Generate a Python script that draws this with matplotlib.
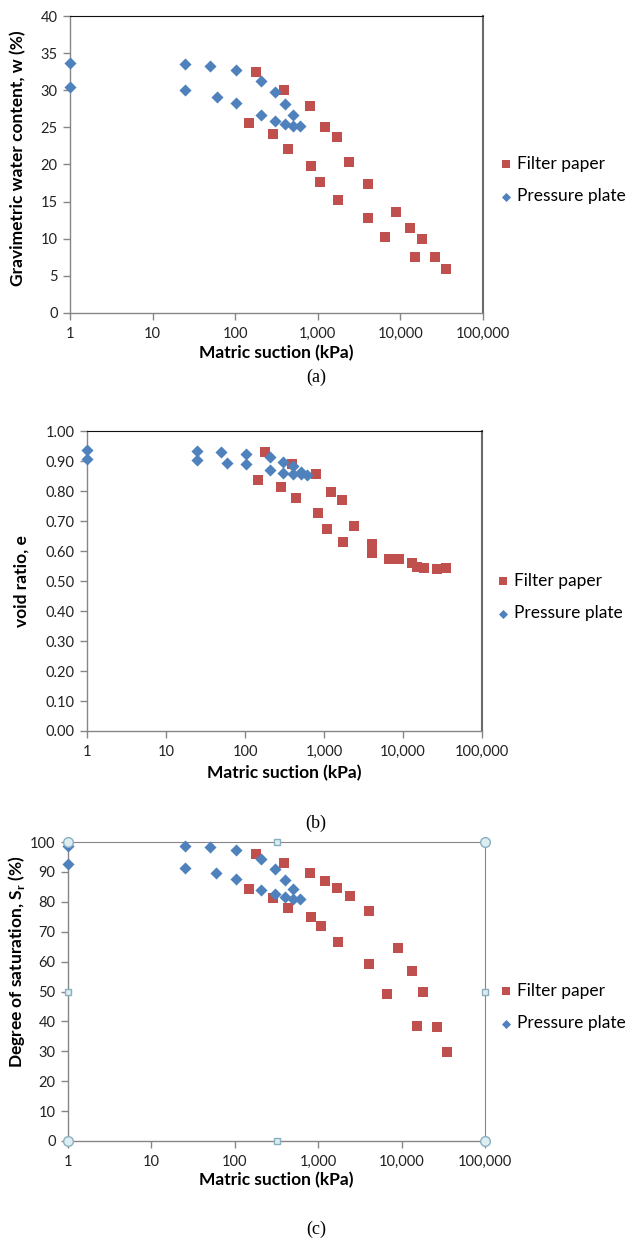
import matplotlib
matplotlib.use("Agg")
import matplotlib.pyplot as plt
from matplotlib.ticker import FixedLocator, FuncFormatter

plt.rcParams['font.family'] = ['Lato', 'DejaVu Sans']
plt.rcParams['mathtext.fontset'] = 'custom'
plt.rcParams['mathtext.bf'] = 'Lato:bold'
plt.rcParams['mathtext.rm'] = 'Lato'

# pressure plate data (blue diamonds)
suction_pp = [1, 1, 25, 25, 50, 60, 102, 102, 207, 207, 302, 302, 401, 401, 505, 505, 603]
w_pp = [33.7, 30.4, 33.5, 30.0, 33.2, 29.1, 32.7, 28.3, 31.3, 26.6, 29.7, 25.8, 28.2, 25.4, 26.6, 25.2, 25.2]
e_pp = [0.937, 0.906, 0.934, 0.903, 0.931, 0.894, 0.925, 0.889, 0.912, 0.870, 0.898, 0.859,
        0.884, 0.856, 0.864, 0.858, 0.853]
sr_pp = [98.7, 92.5, 98.6, 91.2, 98.4, 89.5, 97.3, 87.6, 94.3, 83.8, 91.0, 82.6, 87.4, 81.6, 84.4, 81.1, 81.1]

# filter paper data (red squares)
suction_fp = [178, 147, 388, 285, 437, 803, 830, 1078, 1212, 1700, 1748, 2390, 4070, 4010,
              6600, 8950, 13150, 15100, 18300, 26600, 35400]
w_fp = [32.4, 25.6, 30.0, 24.1, 22.1, 27.9, 19.8, 17.6, 25.1, 23.7, 15.2, 20.3, 17.4, 12.8,
        10.2, 13.6, 11.5, 7.5, 9.9, 7.5, 5.9]
e_fp = [0.929, 0.836, 0.890, 0.812, 0.776, 0.857, 0.728, 0.673, 0.797, 0.770, 0.630, 0.682,
        0.622, 0.594, 0.573, 0.573, 0.559, 0.546, 0.543, 0.540, 0.542]
sr_fp = [96.1, 84.2, 92.9, 81.2, 78.0, 89.5, 75.0, 71.9, 86.8, 84.7, 66.4, 81.9, 76.8, 59.2,
         49.1, 64.6, 56.7, 38.6, 50.0, 38.1, 29.8]

x_ticks = [1, 10, 100, 1000, 10000, 100000]

RED = '#C0504D'
BLUE = '#4F81BD'
GRAY = '#868686'

W, H = 627, 1243
fig = plt.figure(figsize=(W / 100, H / 100), dpi=100)


def make_axes(left, right, top, bottom):
    return fig.add_axes([left / W, 1 - bottom / H, (right - left) / W, (bottom - top) / H])


def style(ax, fp_y, pp_y, ylim, yticks, yfmt, ylabel, ylab_xy, xlab_off, legend_xy,
          selected=False):
    ax.scatter(suction_fp, fp_y, marker='s', s=58, color=RED,
               label='Filter paper', clip_on=False, zorder=3, linewidths=0)
    ax.scatter(suction_pp, pp_y, marker='D', s=38, color=BLUE,
               label='Pressure plate', clip_on=False, zorder=4, linewidths=0)
    ax.set_xscale('log')
    ax.set_xlim(1, 100000)
    ax.set_ylim(*ylim)
    ax.xaxis.set_major_locator(FixedLocator(x_ticks))
    ax.xaxis.set_minor_locator(FixedLocator([]))
    ax.xaxis.set_major_formatter(FuncFormatter(lambda v, p: f'{v:,.0f}'))
    ax.set_yticks(yticks)
    ax.yaxis.set_major_formatter(FuncFormatter(lambda v, p: yfmt.format(v)))
    ax.tick_params(axis='both', labelsize=10.5, colors=GRAY, labelcolor='#222222',
                   length=5, width=1, direction='out')
    ax.tick_params(axis='y', pad=4)
    ax.tick_params(axis='x', pad=5)
    for side in ['left', 'bottom']:
        ax.spines[side].set_color(GRAY)
        ax.spines[side].set_linewidth(1)
    if selected:
        ax.spines['top'].set_color(GRAY)
        ax.spines['right'].set_color(GRAY)
    else:
        ax.spines['top'].set_color('#111111')
        ax.spines['right'].set_color('#6a6a6a')
        ax.spines['right'].set_linewidth(1.5)
    ax.set_xlabel('Matric suction (kPa)', fontsize=12.5, fontweight='bold', va='center')
    ax.xaxis.set_label_coords(0.5, xlab_off)
    ax.set_ylabel(ylabel, fontsize=12.5, fontweight='bold', va='center')
    ax.yaxis.set_label_coords(*ylab_xy)
    ax.legend(loc='center left', bbox_to_anchor=legend_xy, frameon=False, fontsize=12.5,
              handletextpad=0.1, handlelength=1.0, labelspacing=0.95, borderpad=0,
              borderaxespad=0, markerscale=0.75)
    if selected:
        # Excel selection handles on the plot area
        kw = dict(transform=ax.transAxes, clip_on=False, zorder=6,
                  markerfacecolor='#DDEEF3', markeredgecolor='#8AAFC0', markeredgewidth=1)
        for cx, cy in [(0, 0), (1, 0), (0, 1), (1, 1)]:
            ax.plot(cx, cy, 'o', markersize=7, **kw)
        for cx, cy in [(0.5, 0), (0.5, 1), (0, 0.5), (1, 0.5)]:
            ax.plot(cx, cy, 's', markersize=5, **kw)


# (a) gravimetric water content
ax_a = make_axes(70, 483, 16, 313)
style(ax_a, w_fp, w_pp, (0, 40), range(0, 41, 5), '{:.0f}',
      'Gravimetric water content, w (%)', (-0.126, 0.52), -40 / 297, (1.035, 0.447))

# (b) void ratio
ax_b = make_axes(87, 482, 431, 731)
style(ax_b, e_fp, e_pp, (0, 1.0), [i / 10 for i in range(11)], '{:.2f}', 'void ratio, e',
      (-0.165, 0.5), -42 / 300, (1.032, 0.447))

# (c) degree of saturation
ax_c = make_axes(68, 485, 842, 1141)
style(ax_c, sr_fp, sr_pp, (0, 100), range(0, 101, 10), '{:.0f}',
      r'Degree of saturation, S$_{\mathbf{r}}$ (%)', (-0.124, 0.6), -39 / 299,
      (1.03, 0.448), selected=True)

for label, ypix in [('(a)', 377), ('(b)', 823), ('(c)', 1229)]:
    fig.text(316 / W, 1 - ypix / H, label, ha='center', va='center',
             fontsize=13, family='Liberation Serif')

fig.savefig('out.png', dpi=100, facecolor='white')
